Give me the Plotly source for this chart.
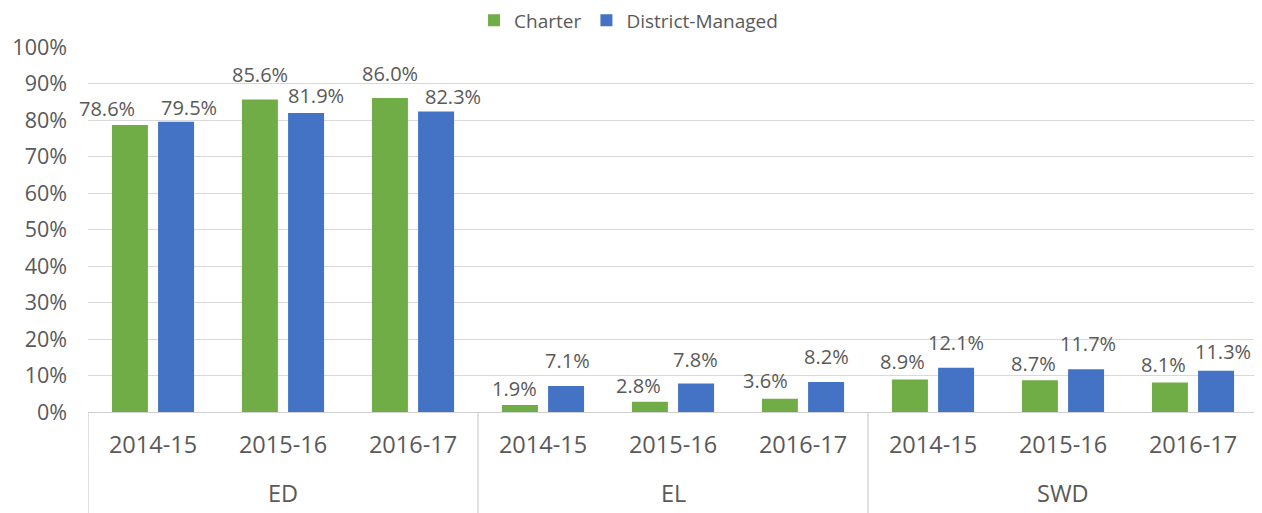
import plotly.graph_objects as go

groups = ["ED", "ED", "ED", "EL", "EL", "EL", "SWD", "SWD", "SWD"]
years = ["2014-15", "2015-16", "2016-17", "2014-15", "2015-16", "2016-17", "2014-15", "2015-16", "2016-17"]
charter = [0.786, 0.856, 0.860, 0.019, 0.028, 0.036, 0.089, 0.087, 0.081]
district = [0.795, 0.819, 0.823, 0.071, 0.078, 0.082, 0.121, 0.117, 0.113]

# label nudges (pixels), as placed in the original chart to avoid overlaps
charter_dx = [-23, 0, 0, -5, -11, -14, -7, -6, -6]
charter_dy = [0, 9, 8, 0, 0, 2, 2, 0, 1]
district_dx = [13, 10, 17, 1, -1, 0, 0, 2, 7]
district_dy = [-2, 1, -1, 9, 8, 9, 9, 9, 3]

GREEN = "#70AD47"
BLUE = "#4472C4"
TXT = "#595959"
GRID = "#D9D9D9"
DIV = "#D0D0D0"
FONT = "Open Sans"
BARGAP = 0.29
BARGROUPGAP = 0.22

xpos = list(range(len(years)))
series = [("Charter", charter, GREEN, charter_dx, charter_dy),
          ("District-Managed", district, BLUE, district_dx, district_dy)]

fig = go.Figure()
nser = len(series)
slot = (1 - BARGAP) / nser
for k, (name, vals, col, dxs, dys) in enumerate(series):
    fig.add_trace(go.Bar(
        name=name,
        x=xpos,
        y=vals,
        marker=dict(color=col, line=dict(width=0)),
        hovertemplate="%{y:.1%}<extra>" + name + "</extra>",
    ))
    center_off = -(1 - BARGAP) / 2 + slot * (k + 0.5)
    for i, v in enumerate(vals):
        fig.add_annotation(
            x=xpos[i] + center_off, xref="x",
            y=v, yref="y", yanchor="bottom", xanchor="center",
            xshift=dxs[i], yshift=1 + dys[i],
            text=f"{v*100:.1f}%", showarrow=False,
            font=dict(family=FONT, size=20, color=TXT),
        )

# group labels and dividers
unique_groups = []
for g in groups:
    if g not in unique_groups:
        unique_groups.append(g)
bounds = [-0.5]
for g in unique_groups:
    idx = [i for i, gg in enumerate(groups) if gg == g]
    fig.add_annotation(
        x=sum(idx) / len(idx), xref="x",
        y=-0.222, yref="paper", yanchor="middle",
        text=g, showarrow=False,
        font=dict(family=FONT, size=23.5, color=TXT),
    )
    bounds.append(max(idx) + 0.5)
for b in bounds:
    fig.add_shape(type="line", xref="x", yref="paper",
                  x0=b, x1=b, y0=0, y1=-0.28,
                  line=dict(color=DIV, width=1.3))

fig.update_layout(
    width=1254, height=505,
    margin=dict(l=80, r=4, t=39, b=101),
    paper_bgcolor="white", plot_bgcolor="white",
    barmode="group", bargap=BARGAP, bargroupgap=BARGROUPGAP,
    font=dict(family=FONT, size=20, color=TXT),
    showlegend=True,
    legend=dict(orientation="h", x=0.462, xanchor="center",
                yref="container", y=1 - 12.5 / 505, yanchor="middle",
                font=dict(family=FONT, size=19, color=TXT), traceorder="normal"),
    xaxis=dict(
        range=[-0.5, len(years) - 0.5],
        tickmode="array", tickvals=xpos, ticktext=years,
        showline=True, linecolor=DIV, linewidth=1.3,
        showgrid=False, zeroline=False,
        tickfont=dict(family=FONT, size=23.5, color=TXT),
        ticks="", ticklabelstandoff=12,
        automargin=False,
    ),
    yaxis=dict(
        range=[0, 1], tickformat=".0%", dtick=0.1,
        showgrid=True, gridcolor=GRID, gridwidth=1.3,
        zeroline=False, showline=False,
        tickfont=dict(family=FONT, size=21.5, color=TXT),
        ticklabelstandoff=20,
        automargin=False,
    ),
)

fig.write_html("out.html")
